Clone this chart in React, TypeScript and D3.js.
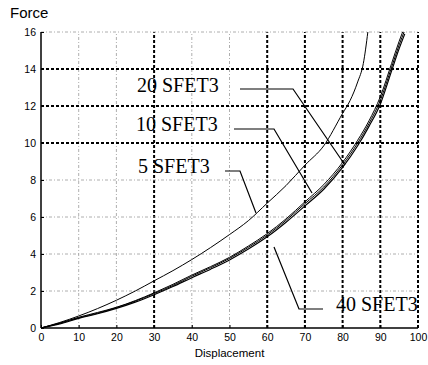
import React, { useEffect, useRef } from 'react';
import * as d3 from 'd3';

// displacement samples shared by the curves
const xs5 = [0, 5, 10, 15, 20, 25, 30, 35, 40, 45, 50, 55, 60, 65, 70, 75, 80, 82, 84, 85.5, 86.7];
const sfet5 = [0, 0.3, 0.65, 1.05, 1.5, 2.0, 2.55, 3.1, 3.7, 4.35, 5.05, 5.8, 6.75, 7.7, 8.8, 9.85, 11.6, 12.3, 13.3, 14.3, 16];

const xsB = [0, 5, 10, 15, 20, 25, 30, 35, 40, 45, 50, 55, 60, 65, 70, 75, 80, 84, 87, 90, 93, 95, 96.5];
const sfet10 = [0, 0.27, 0.58, 0.84, 1.12, 1.48, 1.9, 2.36, 2.86, 3.32, 3.82, 4.43, 5.1, 5.9, 6.82, 7.75, 8.95, 10.15, 11.2, 12.5, 14.3, 15.5, 16.3];
const sfet20 = [0, 0.25, 0.55, 0.8, 1.1, 1.45, 1.86, 2.3, 2.8, 3.26, 3.76, 4.36, 5.02, 5.82, 6.72, 7.62, 8.82, 10.0, 11.05, 12.3, 14.1, 15.3, 16.1];
const sfet40 = [0, 0.22, 0.52, 0.77, 1.06, 1.4, 1.8, 2.24, 2.72, 3.18, 3.68, 4.27, 4.93, 5.72, 6.6, 7.5, 8.68, 9.85, 10.9, 12.1, 13.9, 15.1, 15.9];

const xTicks = [0, 10, 20, 30, 40, 50, 60, 70, 80, 90, 100];
const yTicks = [0, 2, 4, 6, 8, 10, 12, 14, 16];
const xBold = [30, 60, 70, 80, 90, 100];
const yBold = [10, 12, 14];

const App = () => {
  const svgRef = useRef(null);

  useEffect(() => {
    const W = 428, H = 365;
    const m = { left: 41, right: 10, top: 32, bottom: 37 };
    const svg = d3.select(svgRef.current);
    svg.selectAll('*').remove();

    const x = d3.scaleLinear().domain([0, 100]).range([m.left, W - m.right]);
    const y = d3.scaleLinear().domain([0, 16]).range([H - m.bottom, m.top]);

    // grid: thin grey dash-dot, heavy black dashes on some lines
    const g = svg.append('g');
    xTicks.filter(t => t > 0).forEach(t => {
      const bold = xBold.includes(t);
      g.append('line')
        .attr('x1', x(t)).attr('x2', x(t))
        .attr('y1', y(0)).attr('y2', y(16))
        .attr('stroke', bold ? '#000' : '#999')
        .attr('stroke-width', bold ? 2 : 0.8)
        .attr('stroke-dasharray', bold ? '3,2' : '3,2,1,2');
    });
    yTicks.filter(t => t > 0).forEach(t => {
      const bold = yBold.includes(t);
      g.append('line')
        .attr('x1', x(0)).attr('x2', x(100))
        .attr('y1', y(t)).attr('y2', y(t))
        .attr('stroke', bold ? '#000' : '#999')
        .attr('stroke-width', bold ? 2 : 0.8)
        .attr('stroke-dasharray', bold ? '3,2' : '3,2,1,2');
    });

    // axes
    const xAxis = svg.append('g')
      .attr('transform', `translate(0,${y(0)})`)
      .call(d3.axisBottom(x).tickValues(xTicks).tickSize(-3).tickPadding(6));
    xAxis.select('.domain').attr('stroke-width', 1.5).attr('d', `M${x(0)},0H${x(100)}`);
    xAxis.selectAll('text').attr('font-family', 'Liberation Sans, Arial, sans-serif').attr('font-size', 10.5);

    const yAxis = svg.append('g')
      .attr('transform', `translate(${x(0)},0)`)
      .call(d3.axisLeft(y).tickValues(yTicks).tickSize(-3).tickPadding(5));
    yAxis.select('.domain').attr('stroke-width', 1.5).attr('d', `M0,${y(0)}V${y(16)}`);
    yAxis.selectAll('text').attr('font-family', 'Liberation Sans, Arial, sans-serif').attr('font-size', 10.5);

    svg.append('text')
      .attr('x', 10).attr('y', 18)
      .attr('font-family', 'Liberation Sans, Arial, sans-serif')
      .attr('font-size', 15)
      .text('Force');
    svg.append('text')
      .attr('x', x(50)).attr('y', 357)
      .attr('text-anchor', 'middle')
      .attr('font-family', 'Liberation Sans, Arial, sans-serif')
      .attr('font-size', 11.5)
      .text('Displacement');

    // curves, clipped at the top of the plot
    svg.append('clipPath').attr('id', 'plotclip')
      .append('rect')
      .attr('x', x(0)).attr('y', y(16))
      .attr('width', x(100) - x(0)).attr('height', y(0) - y(16));

    const line = d3.line<[number, number]>()
      .x(d => x(d[0])).y(d => y(d[1]))
      .curve(d3.curveMonotoneX);

    const series = [
      { xs: xs5, ys: sfet5, w: 1 },
      { xs: xsB, ys: sfet10, w: 1 },
      { xs: xsB, ys: sfet20, w: 1 },
      { xs: xsB, ys: sfet40, w: 1.2 },
    ];
    const cg = svg.append('g').attr('clip-path', 'url(#plotclip)');
    series.forEach(s => {
      cg.append('path')
        .datum(s.xs.map((v, i) => [v, s.ys[i]] as [number, number]))
        .attr('d', line)
        .attr('fill', 'none')
        .attr('stroke', '#000')
        .attr('stroke-width', s.w);
    });

    // callout labels with leader lines
    const notes = [
      { label: '20 SFET3', tx: 137, ty: 92, pts: [[240, 89], [293, 89], [345, 165]] },
      { label: '10 SFET3', tx: 136, ty: 131, pts: [[234, 129], [274, 129], [312, 193]] },
      { label: '5 SFET3', tx: 138, ty: 173, pts: [[225, 171], [240, 171], [256, 213]] },
      { label: '40 SFET3', tx: 336, ty: 311, pts: [[323, 309], [299, 309], [274, 247]] },
    ];
    notes.forEach(n => {
      svg.append('text')
        .attr('x', n.tx).attr('y', n.ty)
        .attr('font-family', 'Liberation Serif, Times New Roman, serif')
        .attr('font-size', 20)
        .text(n.label);
      svg.append('path')
        .attr('d', d3.line()(n.pts as [number, number][]))
        .attr('fill', 'none')
        .attr('stroke', '#000')
        .attr('stroke-width', 1.2);
    });
  }, []);

  return (
    <svg ref={svgRef} width={428} height={365}
      style={{ position: 'absolute', left: 0, top: 0, background: '#fff' }} />
  );
};

export default App;
